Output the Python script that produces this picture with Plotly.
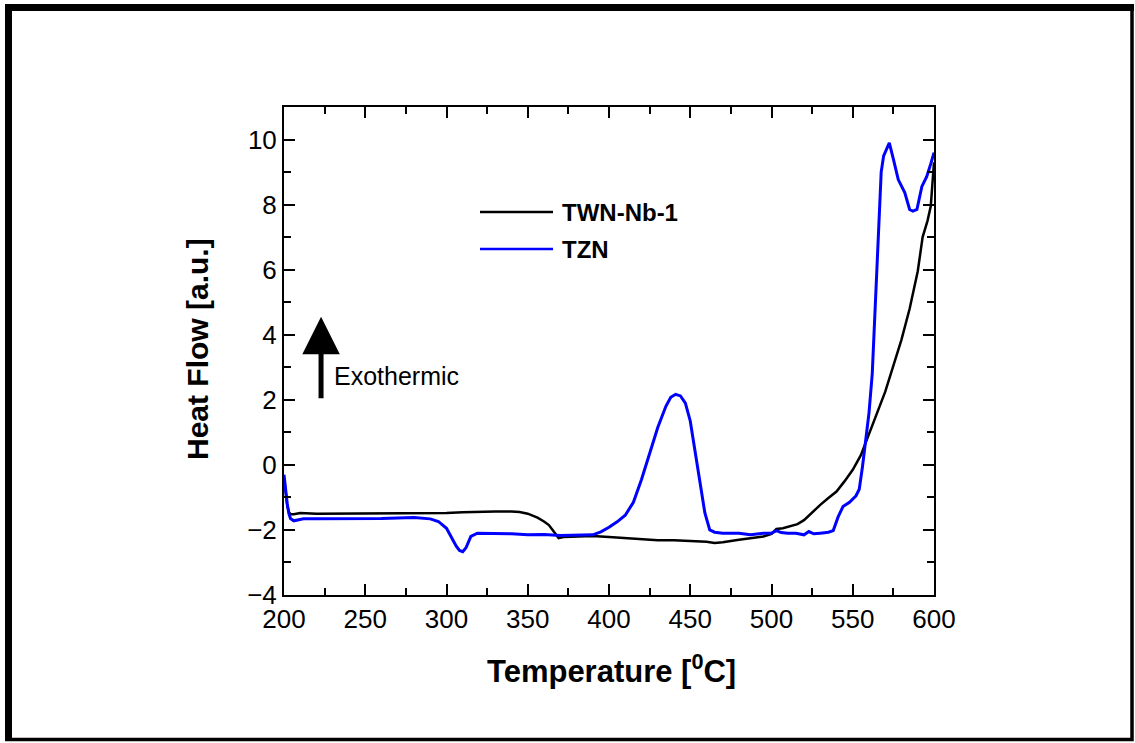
import plotly.graph_objects as go

# ---------------- data ----------------
t_twn = [200, 201, 202, 203, 204, 206, 210, 220, 240, 260, 280, 300, 310, 320, 330, 340,
         345, 350, 353, 356, 360, 363, 366, 369, 372, 380, 390, 400, 410, 420, 430, 440,
         450, 460, 465, 470, 480, 490, 495, 500, 503, 507, 512, 516, 520, 525, 530, 535,
         540, 545, 550, 555, 560, 565, 570, 575, 580, 585, 590, 593, 596, 598, 599, 600]
hf_twn = [-0.4, -0.9, -1.25, -1.45, -1.52, -1.52, -1.48, -1.5, -1.5, -1.49, -1.48, -1.48,
          -1.46, -1.44, -1.43, -1.43, -1.45, -1.5, -1.55, -1.62, -1.74, -1.85, -2.05, -2.25,
          -2.22, -2.2, -2.19, -2.22, -2.25, -2.28, -2.32, -2.32, -2.33, -2.36, -2.4, -2.38,
          -2.3, -2.23, -2.2, -2.12, -1.97, -1.95, -1.88, -1.82, -1.7, -1.45, -1.23, -1.02,
          -0.82, -0.5, -0.15, 0.3, 0.95, 1.6, 2.25, 3.05, 3.85, 4.8, 5.95, 7.0, 7.5, 7.95,
          8.5, 9.3]

t_tzn = [200, 201, 202, 203, 204, 206, 208, 212, 220, 240, 260, 270, 280, 290, 295, 300,
         303, 306, 308, 310, 312, 315, 319, 330, 340, 350, 360, 370, 380, 390, 395, 400,
         405, 410, 415, 420, 425, 430, 435, 438, 441, 444, 447, 450, 453, 456, 459, 462,
         465, 470, 480, 487, 495, 500, 503, 506, 510, 515, 520, 523, 526, 530, 535, 538,
         541, 544, 548, 552, 554, 556, 558, 560, 562, 564, 566, 567.5, 569, 572.5, 575,
         578, 582, 585, 587, 589.5, 592.5, 595.5, 598, 600]
hf_tzn = [-0.3, -0.8, -1.2, -1.5, -1.65, -1.72, -1.7, -1.66, -1.66, -1.66, -1.65, -1.63,
          -1.62, -1.66, -1.74, -1.95, -2.22, -2.5, -2.63, -2.67, -2.55, -2.2, -2.1, -2.1,
          -2.12, -2.15, -2.14, -2.17, -2.17, -2.15, -2.06, -1.92, -1.75, -1.55, -1.15,
          -0.45, 0.35, 1.15, 1.8, 2.08, 2.17, 2.12, 1.9, 1.35, 0.4, -0.5, -1.48, -2.0,
          -2.07, -2.1, -2.1, -2.15, -2.1, -2.1, -2.02, -2.08, -2.1, -2.1, -2.15, -2.05,
          -2.12, -2.1, -2.07, -2.02, -1.6, -1.28, -1.15, -0.95, -0.75, -0.05, 0.8, 1.6,
          2.8, 5.0, 7.6, 9.0, 9.5, 9.9, 9.4, 8.77, 8.37, 7.85, 7.8, 7.85, 8.55, 8.86,
          9.25, 9.6]

series_names = ["TWN-Nb-1", "TZN"]
series_colors = ["#000000", "#0000FF"]
x_ticks = [200, 250, 300, 350, 400, 450, 500, 550, 600]
y_ticks = [-4, -2, 0, 2, 4, 6, 8, 10]

FONT = "Liberation Sans, Arial, sans-serif"

# plot-area geometry (pixels)
L, R, T, B = 284, 201, 107, 148
W, H = 1135, 743
PW, PH = W - L - R, H - T - B


def px(xp):
    return (xp - L) / PW


def py(yp):
    return (H - B - yp) / PH


fig = go.Figure()
fig.add_trace(go.Scatter(x=t_twn, y=hf_twn, mode="lines", name=series_names[0],
                         line=dict(color=series_colors[0], width=2.5), showlegend=False))
fig.add_trace(go.Scatter(x=t_tzn, y=hf_tzn, mode="lines", name=series_names[1],
                         line=dict(color=series_colors[1], width=3), showlegend=False))

axis_common = dict(
    showline=True, linecolor="black", linewidth=2, mirror="ticks",
    ticks="inside", ticklen=11, tickwidth=2, tickcolor="black",
    showgrid=False, zeroline=False,
    tickfont=dict(family=FONT, size=26, color="black"),
)

fig.update_xaxes(range=[200, 600], tickvals=x_ticks,
                 minor=dict(ticks="inside", ticklen=7, tickwidth=2, tickcolor="black", dtick=25,
                            showgrid=False),
                 **axis_common)
fig.update_yaxes(range=[-4, 11], tickvals=y_ticks,
                 minor=dict(ticks="inside", ticklen=7, tickwidth=2, tickcolor="black", dtick=1,
                            showgrid=False),
                 **axis_common)

shapes = []
# outer frame
shapes.append(dict(type="rect", xref="paper", yref="paper",
                   x0=px(7), x1=px(1132), y0=py(6), y1=py(739.5),
                   line=dict(color="black", width=3.5), layer="above"))
shapes.append(dict(type="line", xref="paper", yref="paper",
                   x0=px(5), x1=px(1134), y0=py(7.5), y1=py(7.5),
                   line=dict(color="black", width=7)))
shapes.append(dict(type="line", xref="paper", yref="paper",
                   x0=px(8.5), x1=px(8.5), y0=py(4), y1=py(741),
                   line=dict(color="black", width=7)))
# legend samples
leg_y = [212, 249]
for i in range(2):
    shapes.append(dict(type="line", xref="paper", yref="paper",
                       x0=px(480), x1=px(553), y0=py(leg_y[i]), y1=py(leg_y[i]),
                       line=dict(color=series_colors[i], width=2.5)))

annotations = []
for i in range(2):
    annotations.append(dict(xref="paper", yref="paper", x=px(560), y=py(leg_y[i]),
                            xanchor="left", yanchor="middle", showarrow=False,
                            text="<b>%s</b>" % series_names[i],
                            font=dict(family=FONT, size=24, color="black")))
# axis titles
annotations.append(dict(xref="paper", yref="paper", x=px(611), y=py(669),
                        xanchor="center", yanchor="middle", showarrow=False,
                        text="<b>Temperature [<sup>0</sup>C]</b>",
                        font=dict(family=FONT, size=31, color="black")))
annotations.append(dict(xref="paper", yref="paper", x=px(197), y=py(349),
                        xanchor="center", yanchor="middle", showarrow=False, textangle=-90,
                        text="<b>Heat Flow [a.u.]</b>",
                        font=dict(family=FONT, size=30, color="black")))
# exothermic arrow
annotations.append(dict(x=222.8, y=4.55, ax=222.8, ay=2.0, xref="x", yref="y",
                        axref="x", ayref="y", text="", showarrow=True,
                        arrowhead=2, arrowsize=1.5, arrowwidth=5, arrowcolor="black"))
annotations.append(dict(x=229.5, y=2.74, xref="x", yref="y", xanchor="left",
                        yanchor="middle", showarrow=False, text="Exothermic",
                        font=dict(family=FONT, size=25, color="black")))

fig.update_layout(
    width=W, height=H,
    margin=dict(l=L, r=R, t=T, b=B, autoexpand=False),
    paper_bgcolor="white", plot_bgcolor="white",
    shapes=shapes, annotations=annotations,
    showlegend=False,
)

fig.write_html("out.html")
